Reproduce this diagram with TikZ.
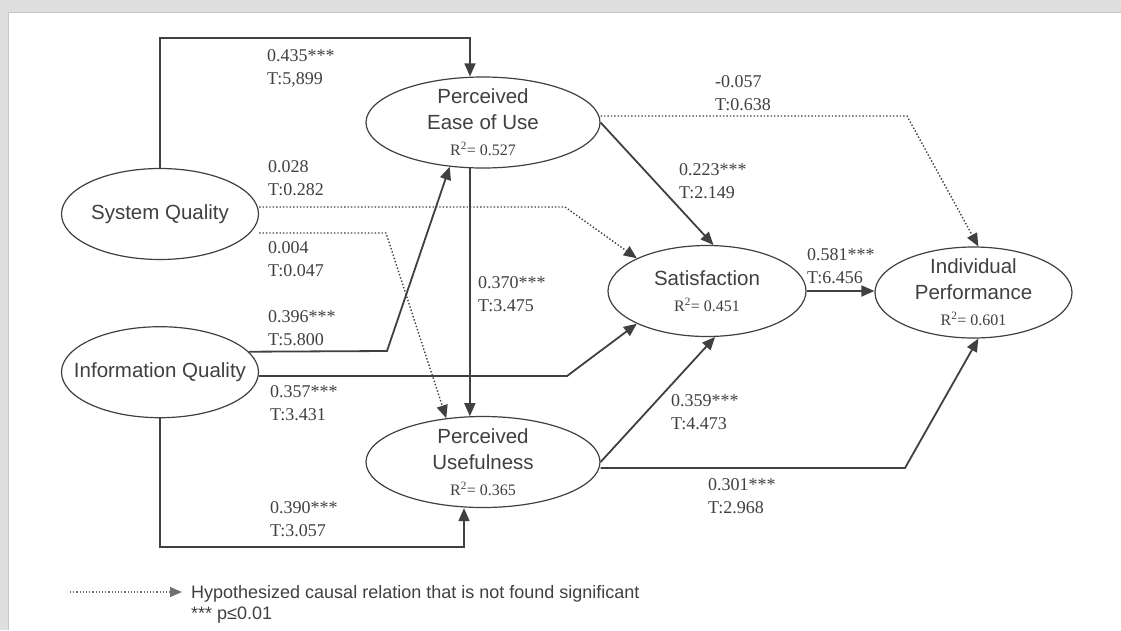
\documentclass[tikz,border=0pt]{standalone}
\usepackage{fontspec}
\setmainfont{Liberation Serif}
\setsansfont{Liberation Sans}
\usetikzlibrary{positioning,arrows.meta,shapes.geometric}

\definecolor{ink}{HTML}{404040}
\definecolor{panel}{HTML}{DFDFDF}
\definecolor{rim}{HTML}{C6C6C6}

% R-squared line under a construct name
\newcommand{\rsq}[1]{{\rmfamily\fontsize{16}{20}\selectfont R\textsuperscript{2}= #1}}

\begin{document}
\begin{tikzpicture}[
    x=1pt, y=-1pt,
    % negative inner sep: the ellipse always takes its minimum size
    construct/.style={draw=ink, ellipse, line width=1.2pt, minimum width=197pt,
                      minimum height=91pt, inner sep=-45pt, align=center, text=ink,
                      font=\sffamily\fontsize{20.5}{26}\selectfont},
    coef/.style={anchor=base west, align=left, inner sep=0pt, text=ink,
                 font=\fontsize{18}{23}\selectfont},
    path/.style={-{Triangle[length=13pt,width=11pt]}, draw=ink, line width=1.8pt},
    nsig/.style={-{Triangle[length=13pt,width=11pt]}, draw=ink, dotted, line width=1.4pt},
    node distance=66pt
]
\useasboundingbox (0,0) rectangle (1121,630);
\fill[panel] (0,0) rectangle (1121,630);
\fill[white] (8,12) rectangle (1121,630);
\draw[rim, line width=1pt] (8,630) -- (8,12) -- (1121,12);

% constructs
\node[construct] (sq) at (160,214) {System Quality};
\node[construct, below=66pt of sq] (iq) {Information Quality};
\node[construct, minimum width=234pt] (peou) at (483,122.5) {Perceived\\Ease of Use\\\rsq{0.527}};
\node[construct, minimum width=234pt] (pu) at (483,462) {Perceived\\Usefulness\\\rsq{0.365}};
\node[construct, minimum width=198pt] (sat) at (707,291) {Satisfaction\\\rsq{0.451}};
\node[construct] (ip) at (973.5,292.5) {Individual\\Performance\\\rsq{0.601}};

% bend points
\coordinate (a1) at (470,38);
\coordinate (b1) at (565,207);
\coordinate (b2) at (386,233);
\coordinate (c1) at (387,351);
\coordinate (c2) at (567,376);
\coordinate (c3) at (464,547);
\coordinate (e1) at (907,116);
\coordinate (f1) at (905,468);

% paths
\draw[path] (sq.north) |- (a1) -- (a1 |- peou.north);
\draw[nsig] (sq.east |- b1) -- (b1) -- (sat.155);
\draw[nsig] (sq.east |- b2) -- (b2) -- (pu.130);
\draw[path] (iq.13) -- (c1) -- (peou.-127);
\draw[path] (iq.east |- c2) -- (c2) -- (sat.-155);
\draw[path] (iq.south) |- (c3) -- (c3 |- pu.south);
\draw[path] (peou.-106) -- (pu.106);
\draw[path] (peou.east) -- (sat.82);
\draw[nsig] (peou.east |- e1) -- (e1) -- (ip.84);
\draw[path] (sat.east) -- (sat.east -| ip.west);
\draw[path] (pu.east) -- (sat.-80);
\draw[path] (pu.east |- f1) -- (f1) -- (ip.-84);

% coefficients (placed at the baseline of the T line)
\node[coef] (l1) at (267,84) {0.435***\\T:5,899};
\node[coef] (l2) at (268,195) {0.028\\T:0.282};
\node[coef] (l3) at (268,276) {0.004\\T:0.047};
\node[coef] (l4) at (268,345) {0.396***\\T:5.800};
\node[coef] (l5) at (270,420) {0.357***\\T:3.431};
\node[coef] (l6) at (270,536) {0.390***\\T:3.057};
\node[coef] (l7) at (478,311) {0.370***\\T:3.475};
\node[coef] (l8) at (679,198) {0.223***\\T:2.149};
\node[coef] (l9) at (715,110) {-0.057\\T:0.638};
\node[coef] (l10) at (807,283) {0.581***\\T:6.456};
\node[coef] (l11) at (671,429) {0.359***\\T:4.473};
\node[coef] (l12) at (708,513) {0.301***\\T:2.968};

% legend
\coordinate (legstart) at (70,592);
\node[anchor=base west, align=left, inner sep=0pt, text=ink,
      font=\sffamily\fontsize{18}{21}\selectfont] (legend) at (191,619)
      {Hypothesized causal relation that is not found significant\\*** p≤0.01};
\draw[-{Triangle[length=12pt,width=10pt]}, draw=ink!75, dotted, line width=1.2pt]
      (legstart) -- (legstart -| legend.west) [shorten >=9pt];
\end{tikzpicture}
\end{document}
